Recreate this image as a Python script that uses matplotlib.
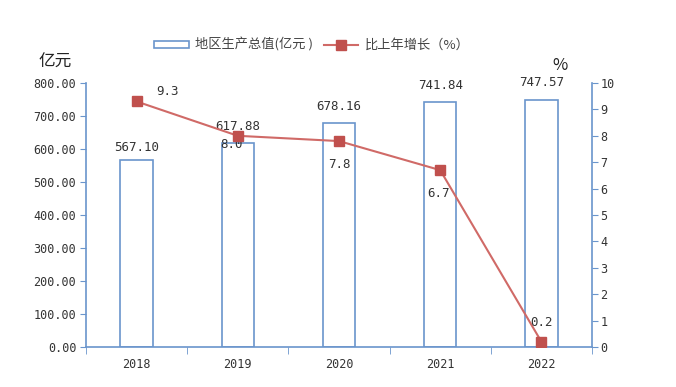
import matplotlib
matplotlib.use("Agg")
import matplotlib.pyplot as plt
from matplotlib.patches import Patch
from matplotlib.lines import Line2D
import numpy as np

years = ["2018", "2019", "2020", "2021", "2022"]
gdp = [567.10, 617.88, 678.16, 741.84, 747.57]
growth = [9.3, 8.0, 7.8, 6.7, 0.2]
gdp_labels = ["567.10", "617.88", "678.16", "741.84", "747.57"]
growth_labels = ["9.3", "8.0", "7.8", "6.7", "0.2"]
left_ticks = [0, 100, 200, 300, 400, 500, 600, 700, 800]
right_ticks = list(range(0, 11))

plt.rcParams['font.family'] = ['Noto Sans CJK SC', 'DejaVu Sans']
mono = 'DejaVu Sans Mono'
blue = '#6a95cc'
red = '#c0504d'
txt = '#333333'

fig = plt.figure(figsize=(6.76, 3.87), dpi=100)
ax = fig.add_axes([86/676, 1-347/387, (592-86)/676, (347-83)/387])
x = np.arange(len(years))
ax.bar(x, gdp, width=0.32, facecolor='white', edgecolor=blue, linewidth=1.2, zorder=2)
ax.set_xlim(-0.5, len(years)-0.5)
ax.set_ylim(0, 800)
ax.set_yticks(left_ticks)
ax.set_yticklabels([f"{v:.2f}" for v in left_ticks], fontfamily=mono, fontsize=8.5, color=txt)
ax.set_xticks(x)
ax.set_xticklabels(years, fontfamily=mono, fontsize=8.5, color=txt)
ax.tick_params(axis='x', length=0, pad=8)
ax.set_xticks(np.arange(-0.5, len(years)), minor=True)
ax.tick_params(axis='x', which='minor', length=5, color=blue, direction='out')
ax.tick_params(axis='y', length=4, color=blue, direction='out', pad=3)
for s in ['top', 'right']:
    ax.spines[s].set_visible(False)
for s in ['left', 'bottom']:
    ax.spines[s].set_color(blue)
    ax.spines[s].set_linewidth(1.2)
bar_dy = [8.6, 12.2, 12.2, 12.2, 12.5]
for i, v in enumerate(gdp):
    ax.annotate(gdp_labels[i], (x[i], v), xytext=(0, bar_dy[i]), textcoords='offset points',
                ha='center', va='center', fontfamily=mono, fontsize=9, color=txt)

ax2 = ax.twinx()
ax2.set_ylim(0, 10)
ax2.set_yticks(right_ticks)
ax2.set_yticklabels([str(v) for v in right_ticks], fontfamily=mono, fontsize=8.5, color=txt)
ax2.tick_params(axis='y', length=4, color=blue, direction='out', pad=2)
for s in ['top', 'left', 'bottom']:
    ax2.spines[s].set_visible(False)
ax2.spines['right'].set_color(blue)
ax2.spines['right'].set_linewidth(1.2)
ax2.plot(x, growth, color='#d06a67', linewidth=1.5, zorder=3)
ax2.plot(x, growth, linestyle='none', marker='s', markersize=7, color=red, zorder=4)
offsets = [(22, 7.5), (-4.5, -6.5), (0, -17), (-1.5, -16.5), (0, 14)]
for i, v in enumerate(growth):
    dx, dy = offsets[i]
    ax2.annotate(growth_labels[i], (x[i], v), xytext=(dx, dy), textcoords='offset points',
                 ha='center', va='center', fontfamily=mono, fontsize=9, color=txt)

fig.text(55/676, 1-62/387, "亿元", ha='center', va='center', fontsize=12, color='#222222')
fig.text(560/676, 1-66/387, "%", ha='center', va='center', fontsize=12, color='#222222')

handles = [Patch(facecolor='white', edgecolor=blue, linewidth=1.2),
           Line2D([0], [0], color='#d06a67', linewidth=1.5, marker='s', markersize=7,
                  markerfacecolor=red, markeredgecolor=red)]
fig.legend(handles, ["地区生产总值(亿元 )", "比上年增长（%）"], loc='center',
           bbox_to_anchor=(312/676, 1-45/387), ncol=2, frameon=False, fontsize=9.5,
           handlelength=2.6, handleheight=0.5, columnspacing=0.8, handletextpad=0.5,
           labelcolor='#444444')

fig.savefig("out.png", dpi=100)
